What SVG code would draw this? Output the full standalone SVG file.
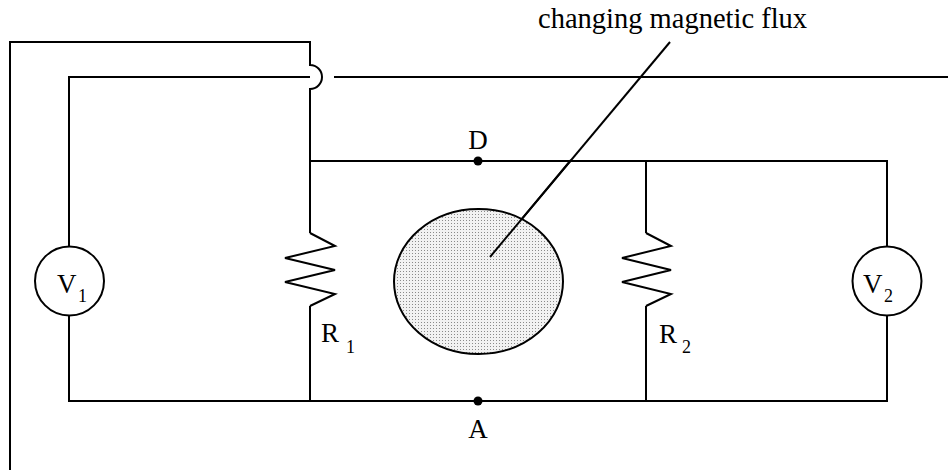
<svg xmlns="http://www.w3.org/2000/svg" width="948" height="470" viewBox="0 0 948 470">
<style>
.w{fill:none;stroke:#000;stroke-width:2;stroke-linejoin:miter}
.t{font-family:"Liberation Serif","Times New Roman",serif;fill:#000}
.big{font-size:27px}
.sub{font-size:18px}
</style>
<defs>
<pattern id="dots" width="3" height="3" patternUnits="userSpaceOnUse">
<rect width="3" height="3" fill="#f2f2f2"/>
<rect x="1" y="1" width="1" height="1" fill="#8a8a8a"/>
</pattern>
</defs>
<rect width="948" height="470" fill="#fff"/>
<g id="connectors">
<path class="w" d="M10 470 V42 H310 V65 A12 12 0 0 1 310 89 V161"/>
<path class="w" d="M69 246 V77 H310"/>
<path class="w" d="M334 77 H948"/>
<path class="w" d="M69 316 V401 H887 V316"/>
<path class="w" d="M310 161 H887 V246"/>
<path class="w" d="M310 161 V233"/>
<path class="w" d="M310 306 V401"/>
<path class="w" d="M646 161 V233"/>
<path class="w" d="M646 306 V401"/>
<path class="w" d="M490 257 L670 42"/>
</g>
<g id="R1">
<polyline class="w" points="310,233 335,246 285,258 335,270 285,282 335,294 310,306"/>
<text class="t big" x="321" y="342">R</text>
<text class="t sub" x="346" y="353">1</text>
</g>
<g id="R2">
<polyline class="w" points="646,233 671,246 622,258 671,270 622,282 671,294 646,306"/>
<text class="t big" x="659" y="343">R</text>
<text class="t sub" x="682" y="353">2</text>
</g>
<g id="V1">
<circle class="w" cx="69.5" cy="281" r="34.5" fill="#fff"/>
<text class="t big" x="57" y="293">V</text>
<text class="t sub" x="78" y="302">1</text>
</g>
<g id="V2">
<circle class="w" cx="887" cy="281" r="34.5" fill="#fff"/>
<text class="t big" x="863" y="293">V</text>
<text class="t sub" x="884" y="302">2</text>
</g>
<g id="D">
<circle cx="478" cy="161" r="4.5" fill="#000"/>
<text class="t big" x="478" y="149" text-anchor="middle">D</text>
</g>
<g id="A">
<circle cx="478" cy="401" r="4.5" fill="#000"/>
<text class="t big" x="478" y="438" text-anchor="middle">A</text>
</g>
<g id="flux">
<ellipse cx="478.5" cy="281.5" rx="84.5" ry="72.5" fill="url(#dots)" stroke="#000" stroke-width="2"/>
<line x1="490" y1="257" x2="571" y2="160" stroke="#000" stroke-width="2"/>
</g>
<g id="label">
<text class="t" x="538" y="28" font-size="28.5">changing magnetic flux</text>
</g>
</svg>
